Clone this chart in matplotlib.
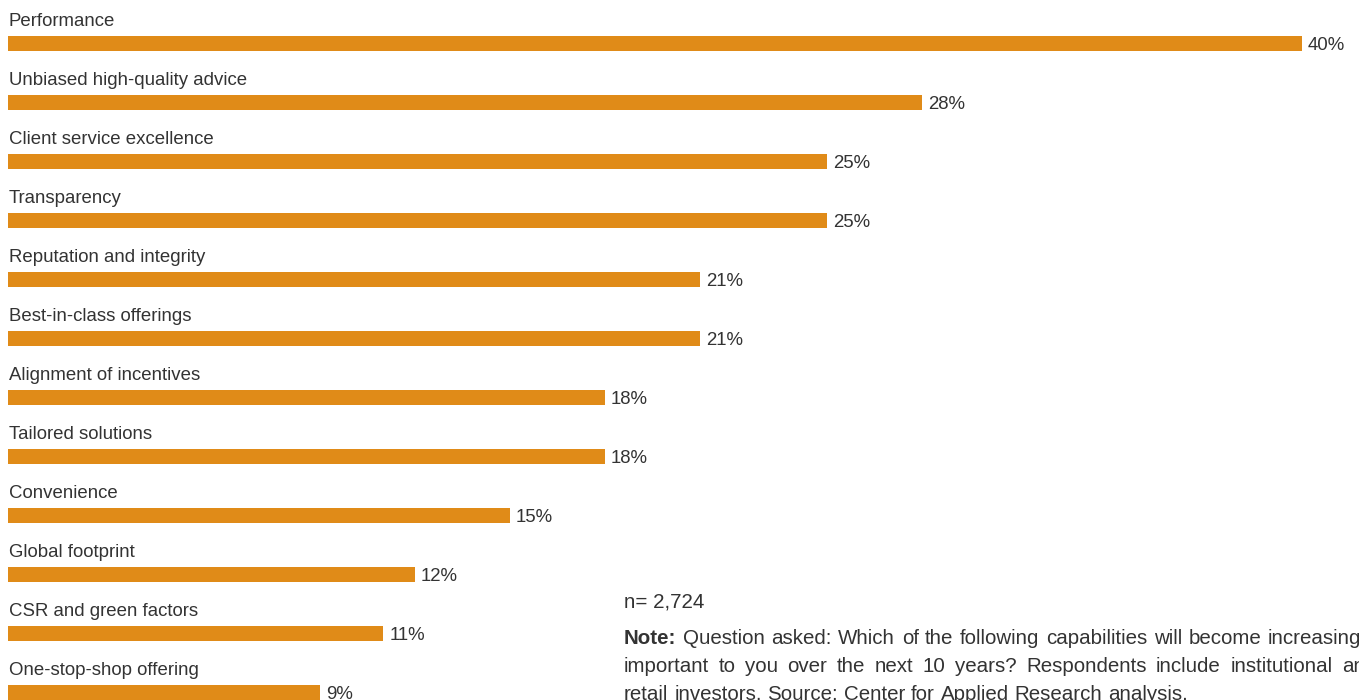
import matplotlib
matplotlib.use("Agg")
import matplotlib.pyplot as plt

# data
categories = [
    "Performance",
    "Unbiased high-quality advice",
    "Client service excellence",
    "Transparency",
    "Reputation and integrity",
    "Best-in-class offerings",
    "Alignment of incentives",
    "Tailored solutions",
    "Convenience",
    "Global footprint",
    "CSR and green factors",
    "One-stop-shop offering",
]
values = [40, 28, 25, 25, 21, 21, 18, 18, 15, 12, 11, 9]

n_text = "n= 2,724"
note_lines = [
    "Question asked: Which of the following capabilities will become increasingly",
    "important to you over the next 10 years? Respondents include institutional and",
    "retail investors. Source: Center for Applied Research analysis.",
]

bar_color = "#E08B18"
text_color = "#333333"

W, H = 1359, 700
fig = plt.figure(figsize=(W / 100, H / 100), dpi=100)
ax = fig.add_axes([0, 0, 1, 1])

x0 = -0.846  # bars start a little left of zero
ys = list(range(len(categories)))
ax.barh(ys, [v - x0 for v in values], left=x0, height=0.254, color=bar_color)

for y, cat, v in zip(ys, categories, values):
    ax.text(-0.814, y - 0.29, cat, fontsize=13.4, color=text_color,
            family="Liberation Sans", va="baseline", ha="left")
    ax.text(v + 0.19, y + 0.04, f"{v}%", fontsize=13.4, color=text_color,
            family="Liberation Sans", va="center", ha="left")

ax.set_xlim(-1.098, 41.8)
ax.set_ylim(11.127, -0.737)
ax.axis("off")

# note block (justified text, clipped by right edge like the reference)
note_font = dict(family=["Liberation Sans Narrow", "Liberation Sans"], fontsize=14.8,
                 color=text_color)
fig.text(624 / W, 1 - 607 / H, n_text, va="baseline", **note_font)

left_px, right_px = 624, 1376
base_px = [644, 672, 700]

fig.canvas.draw()
renderer = fig.canvas.get_renderer()


def word_width(word, **kw):
    t = fig.text(0, 0, word, **kw)
    w = t.get_window_extent(renderer).width
    t.remove()
    return w


for i, line in enumerate(note_lines):
    words = line.split(" ")
    items = []
    if i == 0:
        items.append(("Note:", "bold"))
    items += [(w, "normal") for w in words]
    widths = [word_width(w, fontweight=fw, **note_font) for w, fw in items]
    space = word_width("a a", **note_font) - 2 * word_width("a", **note_font)
    if i < len(note_lines) - 1:
        gap = max(space, (right_px - left_px - sum(widths)) / (len(items) - 1))
    else:
        gap = space
    x = left_px
    for (w, fw), wd in zip(items, widths):
        fig.text(x / W, 1 - base_px[i] / H, w, va="baseline", fontweight=fw, **note_font)
        x += wd + gap

fig.savefig("out.png", dpi=100, facecolor="white")
